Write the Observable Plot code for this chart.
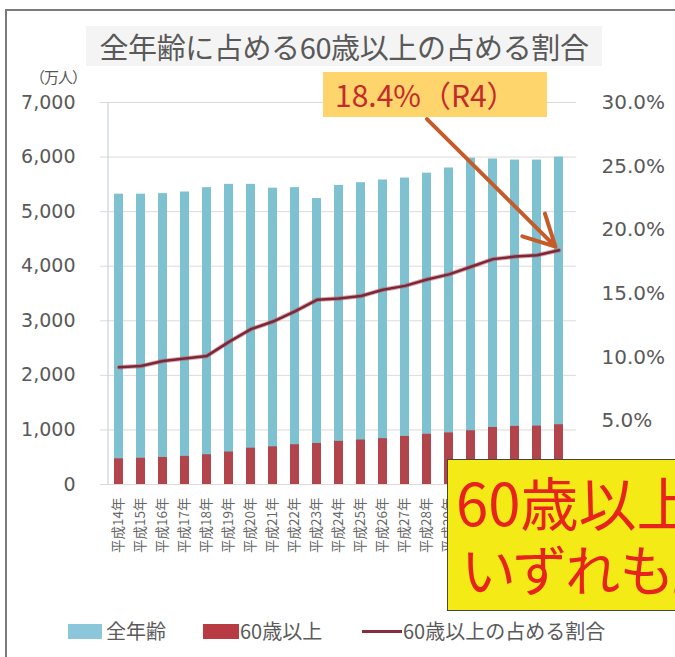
<!DOCTYPE html>
<html><head><meta charset="utf-8">
<script src="https://cdn.jsdelivr.net/npm/d3@7"></script>
<script src="https://cdn.jsdelivr.net/npm/@observablehq/plot@0.6"></script>
<style>
  body { margin: 0; background: #fff; }
  #wrap { position: relative; width: 675px; height: 657px; overflow: hidden; background: #fff;
          font-family: "Noto Sans CJK JP", "Noto Sans", sans-serif; }
  #frame { position: absolute; left: 5px; top: 9px; width: 700px; height: 700px;
           border-left: 2px solid #7a7a7a; border-top: 2px solid #7a7a7a; }
  #title { position: absolute; left: 86px; top: 26px; width: 516px; height: 40px; background: #f4f4f4;
          color: #595959; font-size: 29px; line-height: 40px; text-align: center; letter-spacing: -0.4px; }
  #unit { position: absolute; left: 30px; top: 66px; font-size: 15px; color: #555; letter-spacing: -1px; }
  #chart { position: absolute; left: 0; top: 0; }
  #callout { position: absolute; left: 323px; top: 72px; width: 224px; height: 45px; background: #fdd56c;
             color: #c42b2b; font-size: 30px; line-height: 45px; padding-left: 12px; box-sizing: border-box; }
  #note { position: absolute; left: 447px; top: 459px; width: 320px; height: 152px; background: #f4ea16;
          border: 1.5px solid #444; box-sizing: border-box; color: #e8231e; }
  #note div { position: absolute; white-space: nowrap; line-height: 57px; font-size: 58px; }
  #legend { position: absolute; left: 0; top: 618px; width: 675px; height: 26px; color: #5a5a5a; font-size: 20px; }
  #legend span { position: absolute; top: 0; line-height: 26px; white-space: nowrap; }
  .sw { position: absolute; }
</style>
</head>
<body>
<div id="wrap">
  <div id="frame"></div>
  <div id="title">全年齢に占める60歳以上の占める割合</div>
  <div id="unit">（万人）</div>
  <div id="chart"></div>
  <div id="callout">18.4%（R4）</div>
  <div id="note">
    <div style="left:8px; top:13px;">60歳以上の</div>
    <div style="left:14px; top:79px; font-feature-settings:'palt'; font-size:55px;">いずれも上昇</div>
  </div>
  <div id="legend">
    <div class="sw" style="left:68px; top:6px; width:34px; height:15px; background:#8cc6da;"></div>
    <span style="left:106px;">全年齢</span>
    <div class="sw" style="left:203px; top:6px; width:36px; height:15px; background:#b83a43;"></div>
    <span style="left:240px;">60歳以上</span>
    <div class="sw" style="left:362px; top:12px; width:40px; height:3px; background:#8a2c3c;"></div>
    <span style="left:403px;">60歳以上の占める割合</span>
  </div>
</div>
<script>
// ---- data ----
const years = ["平成14年","平成15年","平成16年","平成17年","平成18年","平成19年","平成20年","平成21年","平成22年","平成23年","平成24年","平成25年","平成26年","平成27年","平成28年","平成29年","平成30年","令和元年","令和2年","令和3年","令和4年"];
const allAges = [5320, 5320, 5330, 5360, 5440, 5500, 5500, 5430, 5440, 5240, 5480, 5530, 5580, 5615, 5705, 5800, 5980, 5965, 5945, 5945, 6000];
const over60  = [470, 480, 495, 515, 545, 595, 665, 690, 728, 752, 790, 815, 840, 880, 920, 945, 985, 1045, 1065, 1070, 1095];
const share   = [9.2, 9.3, 9.7, 9.9, 10.1, 11.2, 12.2, 12.8, 13.6, 14.5, 14.6, 14.8, 15.3, 15.6, 16.1, 16.5, 17.1, 17.7, 17.9, 18.0, 18.4];
const leftTicks = [0, 1000, 2000, 3000, 4000, 5000, 6000, 7000];
const rightTicks = [5, 10, 15, 20, 25, 30];
// annotation arrow: from (平成28年, 28.7%) to (令和4年, 18.4%)
const arrowFrom = {year: "平成28年", pct: 28.7};
const arrowTo = {year: "令和4年", pct: 18.4};

const yMax = 7000, pMax = 30;
const toY = p => p * yMax / pMax;

const rows = years.map((y, i) => ({year: y, all: allAges[i], o60: over60[i], share: share[i]}));

const chart = Plot.plot({
  width: 675, height: 560,
  marginLeft: 100, marginRight: 99, marginTop: 102, marginBottom: 76,
  style: {background: "transparent", color: "#595959", fontFamily: "DejaVu Sans"},
  x: {domain: years, paddingInner: 0.6, paddingOuter: 0.285, axis: null},
  y: {domain: [0, yMax], axis: null},
  marks: [
    Plot.ruleY(leftTicks, {stroke: "#e0d8d8", strokeWidth: 1}),
    Plot.ruleX([years[0]], {dx: -11, stroke: "#c9d6da", strokeWidth: 1.2}),
    Plot.barY(rows, {x: "year", y: "all", fill: "#7ec1d1"}),
    Plot.barY(rows, {x: "year", y: "o60", fill: "#b2444b"}),
    Plot.line(rows, {x: "year", y: d => toY(d.share), stroke: "#c0505a", strokeWidth: 4.5, strokeOpacity: 0.5}),
    Plot.line(rows, {x: "year", y: d => toY(d.share), stroke: "#7a2838", strokeWidth: 2.5}),
    Plot.arrow([0], {x1: () => arrowFrom.year, y1: () => toY(arrowFrom.pct),
                     x2: () => arrowTo.year, y2: () => toY(arrowTo.pct),
                     stroke: "#c65a28", strokeWidth: 4, headLength: 13, headAngle: 55, insetEnd: 5}),
    Plot.axisY({anchor: "left", ticks: leftTicks, tickFormat: d => d3.format(",")(d),
                tickSize: 0, tickPadding: 25, fontSize: 19, fontFamily: "DejaVu Sans", label: null}),
    Plot.axisY({anchor: "right", ticks: rightTicks.map(toY), tickFormat: d => (d * pMax / yMax).toFixed(1) + "%",
                tickSize: 0, tickPadding: 25, fontSize: 20, fontFamily: "DejaVu Sans", label: null}),
    Plot.axisX({tickRotate: -90, tickSize: 0, tickPadding: 13, fontSize: 13.5,
                fontFamily: "Noto Sans CJK JP", color: "#666", label: null})
  ]
});
document.getElementById("chart").appendChild(chart);
</script>
</body></html>
